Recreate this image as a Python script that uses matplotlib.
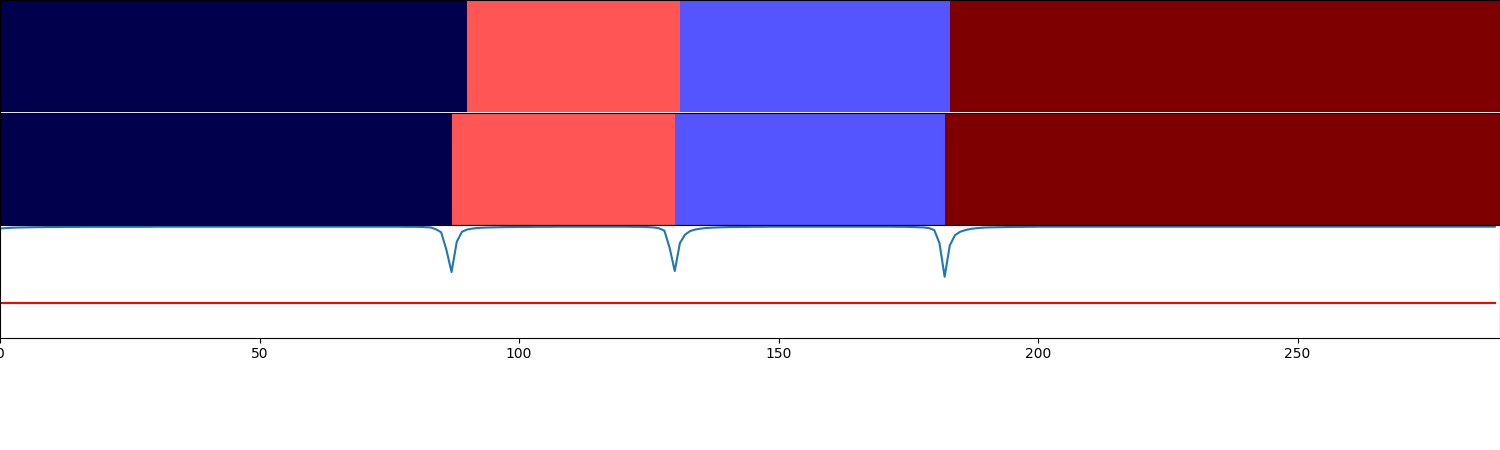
import numpy as np
import matplotlib
matplotlib.use('Agg')
import matplotlib.pyplot as plt

n_samples = 289
seg_labels = [0, 2, 1, 3]
true_bkps = [90, 131, 183, 289]
pred_bkps = [87, 130, 182, 289]
threshold = 0.307

# score, one value per sample
score = [
    0.968, 0.972, 0.975, 0.977, 0.978, 0.979, 0.980, 0.981, 0.981, 0.982,  # 0
    0.982, 0.982, 0.983, 0.983, 0.983, 0.983, 0.984, 0.984, 0.984, 0.984,  # 10
    0.984, 0.984, 0.984, 0.984, 0.984, 0.984, 0.984, 0.984, 0.984, 0.984,  # 20
    0.985, 0.985, 0.985, 0.985, 0.985, 0.985, 0.985, 0.985, 0.985, 0.985,  # 30
    0.985, 0.985, 0.985, 0.985, 0.985, 0.985, 0.985, 0.985, 0.985, 0.985,  # 40
    0.985, 0.985, 0.985, 0.985, 0.985, 0.985, 0.985, 0.985, 0.985, 0.985,  # 50
    0.985, 0.985, 0.985, 0.985, 0.985, 0.985, 0.985, 0.985, 0.985, 0.985,  # 60
    0.985, 0.985, 0.985, 0.985, 0.985, 0.985, 0.985, 0.985, 0.984, 0.984,  # 70
    0.984, 0.983, 0.981, 0.978, 0.962, 0.935, 0.780, 0.582, 0.850, 0.940,  # 80
    0.960, 0.968, 0.973, 0.976, 0.978, 0.979, 0.980, 0.981, 0.982, 0.982,  # 90
    0.983, 0.983, 0.983, 0.984, 0.984, 0.984, 0.984, 0.985, 0.985, 0.985,  # 100
    0.985, 0.985, 0.985, 0.985, 0.985, 0.985, 0.985, 0.985, 0.985, 0.985,  # 110
    0.985, 0.985, 0.984, 0.984, 0.983, 0.981, 0.978, 0.970, 0.950, 0.800,  # 120
    0.591, 0.840, 0.915, 0.947, 0.960, 0.968, 0.973, 0.976, 0.978, 0.980,  # 130
    0.981, 0.982, 0.982, 0.983, 0.983, 0.984, 0.984, 0.984, 0.985, 0.985,  # 140
    0.985, 0.985, 0.985, 0.985, 0.985, 0.985, 0.985, 0.985, 0.985, 0.985,  # 150
    0.985, 0.985, 0.985, 0.985, 0.985, 0.985, 0.985, 0.985, 0.985, 0.985,  # 160
    0.985, 0.985, 0.985, 0.984, 0.984, 0.983, 0.982, 0.980, 0.978, 0.972,  # 170
    0.955, 0.840, 0.540, 0.820, 0.910, 0.940, 0.955, 0.965, 0.971, 0.975,  # 180
    0.978, 0.979, 0.980, 0.981, 0.982, 0.982, 0.983, 0.983, 0.984, 0.984,  # 190
    0.985, 0.985, 0.985, 0.985, 0.985, 0.985, 0.985, 0.985, 0.985, 0.985,  # 200
    0.985, 0.985, 0.985, 0.985, 0.985, 0.985, 0.985, 0.985, 0.985, 0.985,  # 210
    0.985, 0.985, 0.985, 0.985, 0.985, 0.985, 0.985, 0.985, 0.985, 0.985,  # 220
    0.985, 0.985, 0.985, 0.985, 0.985, 0.985, 0.985, 0.985, 0.985, 0.985,  # 230
    0.985, 0.985, 0.985, 0.985, 0.985, 0.985, 0.985, 0.985, 0.985, 0.985,  # 240
    0.985, 0.985, 0.985, 0.985, 0.985, 0.985, 0.985, 0.985, 0.985, 0.985,  # 250
    0.985, 0.985, 0.985, 0.985, 0.985, 0.985, 0.985, 0.985, 0.985, 0.985,  # 260
    0.985, 0.985, 0.985, 0.985, 0.985, 0.985, 0.985, 0.985, 0.985, 0.985,  # 270
    0.985, 0.985, 0.985, 0.985, 0.985, 0.985, 0.985, 0.985, 0.985,         # 280
]


def label_row(bkps):
    lengths = np.diff([0] + bkps)
    return np.repeat(seg_labels, lengths)[None, :]


x = np.arange(len(score))

fig = plt.figure(figsize=(15, 4.5), dpi=100)
ax1 = fig.add_axes([0, 0.75, 1, 0.25])
ax2 = fig.add_axes([0, 0.5, 1, 0.25])
ax3 = fig.add_axes([0, 0.25, 1, 0.25])

for ax, bkps in ((ax1, true_bkps), (ax2, pred_bkps)):
    ax.imshow(label_row(bkps), aspect='auto', cmap='seismic', vmin=0, vmax=3,
              extent=(0, n_samples, 0, 1), interpolation='nearest')
    ax.set_xlim(0, n_samples)
    ax.set_xticks([])
    ax.set_yticks([])

ax3.plot(x, score, color='tab:blue')
ax3.plot(x, np.full(len(x), threshold), color='red')
ax3.set_xlim(0, n_samples)
ax3.set_ylim(0, 1)
ax3.set_yticks([])
ax3.set_xticks([0, 50, 100, 150, 200, 250])

fig.savefig('out.png', dpi=100)
